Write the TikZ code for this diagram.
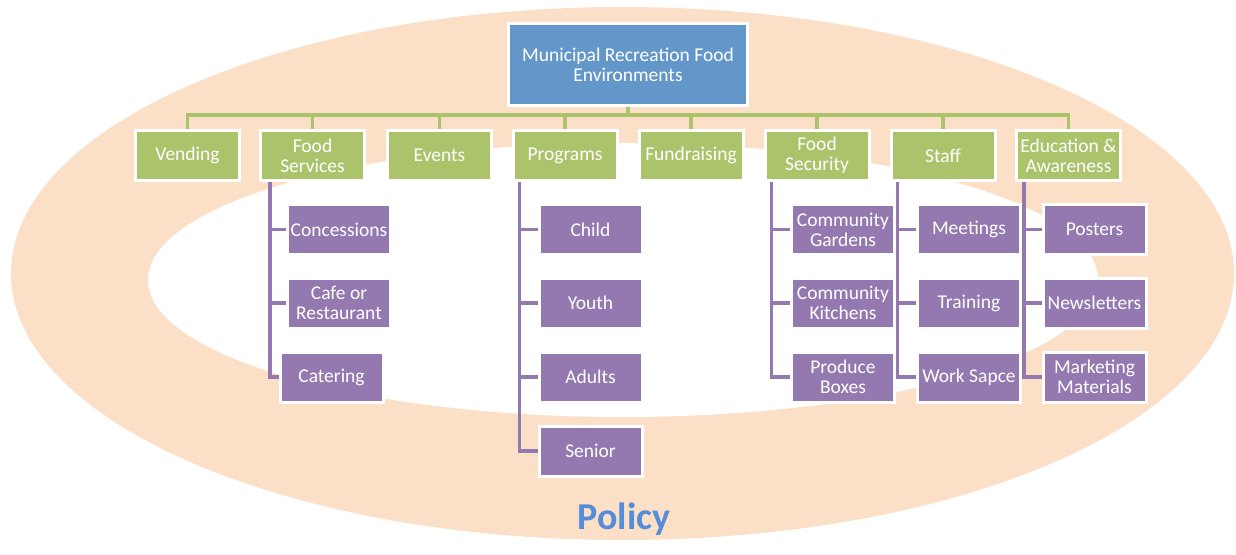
\documentclass[tikz,border=0pt]{standalone}
\usepackage{fontspec}
\setmainfont{Carlito}
\usetikzlibrary{calc}

\definecolor{peach}{HTML}{FBDFC7}
\definecolor{topblue}{HTML}{6497C9}
\definecolor{leafgreen}{HTML}{ABC46C}
\definecolor{leafpurple}{HTML}{9479B0}
\definecolor{policyblue}{HTML}{558DD9}

\tikzset{
  box/.style={draw=white, line width=3pt, inner sep=0pt, align=center,
    text=white, font=\fontsize{19.5}{20}\selectfont},
  topbox/.style={box, fill=topblue, minimum width=239pt, minimum height=82pt},
  gbox/.style={box, fill=leafgreen, minimum width=104pt, minimum height=50pt},
  pbox/.style={box, fill=leafpurple, minimum width=103pt, minimum height=50pt},
  gline/.style={draw=leafgreen, line width=3.5pt},
  pline/.style={draw=leafpurple, line width=3.5pt},
}

\begin{document}
\begin{tikzpicture}[x=1pt, y=-1pt]
  \useasboundingbox (0,0) rectangle (1236,554);

  % policy ring: outer peach ellipse with a white core
  \fill[peach] (622.5,273.5) ellipse [x radius=611.5pt, y radius=266.5pt];
  \fill[white] (623,280) ellipse [x radius=475pt, y radius=137pt];

  % root
  \node[topbox] (top) at (628,64.5) {Municipal Recreation Food\\Environments};

  % first level
  \node[gbox] (g1) at (187.5,155.5) {Vending};
  \node[gbox] (g2) at (312.5,155.5) {Food\\Services};
  \node[gbox] (g3) at (439.5,155.5) {Events};
  \node[gbox] (g4) at (565,155.5) {Programs};
  \node[gbox] (g5) at (691,155.5) {Fundraising};
  \node[gbox] (g6) at (817,155.5) {Food\\Security};
  \node[gbox] (g7) at (943,155.5) {Staff};
  \node[gbox] (g8) at (1068.5,155.5) {Education \&\\Awareness};

  % second level: food services
  \node[pbox] (a1) at (339,229.5) {Concessions};
  \node[pbox] (a2) at (339,303) {Cafe or\\Restaurant};
  \node[pbox] (a3) at (331.5,377) {Catering};
  % programs
  \node[pbox] (b1) at (590.5,229.5) {Child};
  \node[pbox] (b2) at (590.5,303) {Youth};
  \node[pbox] (b3) at (590.5,377) {Adults};
  \node[pbox] (b4) at (590.5,451) {Senior};
  % food security
  \node[pbox] (c1) at (843,229.5) {Community\\Gardens};
  \node[pbox] (c2) at (843,303) {Community\\Kitchens};
  \node[pbox] (c3) at (843,377) {Produce\\Boxes};
  % staff
  \node[pbox] (d1) at (969,229.5) {Meetings};
  \node[pbox] (d2) at (969,303) {Training};
  \node[pbox] (d3) at (969,377) {Work Sapce};
  % education & awareness
  \node[pbox] (e1) at (1094.5,229.5) {Posters};
  \node[pbox] (e2) at (1094.5,303) {Newsletters};
  \node[pbox] (e3) at (1094.5,377) {Marketing\\Materials};

  % green bus from the root to the first level
  \coordinate (bus) at (628,115);
  \draw[gline] (top.south) -- (bus);
  \foreach \g in {g1,g2,g3,g4,g5,g6,g7,g8}
    \draw[gline] (bus) -| (\g.north);

  % purple spines down to the second level
  \coordinate (sa) at ($(g2.south west)+(11,0)$);
  \coordinate (sb) at ($(g4.south west)+(8,0)$);
  \coordinate (sc) at ($(g6.south west)+(8,0)$);
  \coordinate (sd) at ($(g7.south west)+(8,0)$);
  \coordinate (se) at ($(g8.south west)+(9,0)$);
  \foreach \n in {a1,a2,a3} \draw[pline] (sa) |- (\n.west);
  \foreach \n in {b1,b2,b3,b4} \draw[pline] (sb) |- (\n.west);
  \foreach \n in {c1,c2,c3} \draw[pline] (sc) |- (\n.west);
  \foreach \n in {d1,d2,d3} \draw[pline] (sd) |- (\n.west);
  \foreach \n in {e1,e2,e3} \draw[pline] (se) |- (\n.west);

  % ring label
  \node[text=policyblue, font=\bfseries\fontsize{38}{40}\selectfont] (policy) at (624,519) {Policy};
\end{tikzpicture}
\end{document}
